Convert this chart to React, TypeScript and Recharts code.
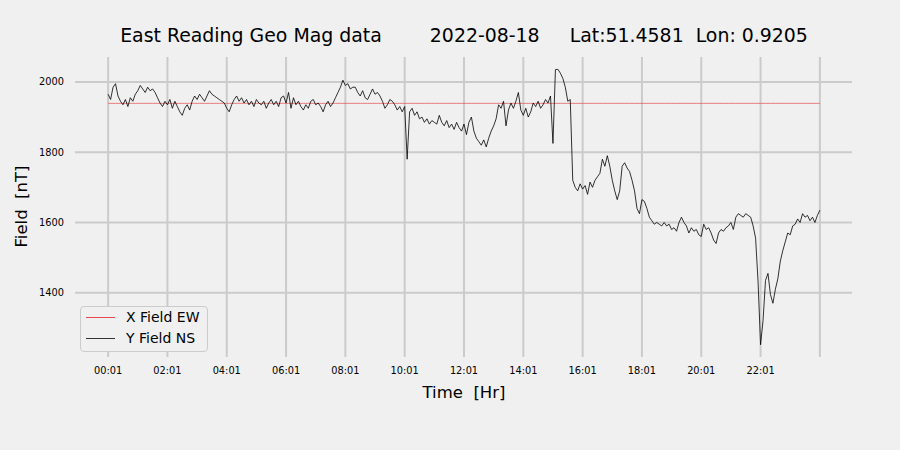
import React from 'react';
import { LineChart, Line, XAxis, YAxis, CartesianGrid, Legend } from 'recharts';

const sampleStepMin = 5;

const yFieldNS = [
  1965, 1950, 1985, 1995, 1960, 1945, 1935, 1950, 1930, 1955,
  1945, 1965, 1975, 1990, 1980, 1970, 1985, 1975, 1980, 1970,
  1955, 1940, 1930, 1945, 1935, 1950, 1925, 1945, 1930, 1915,
  1905, 1925, 1935, 1920, 1945, 1960, 1950, 1965, 1955, 1945,
  1960, 1975, 1965, 1960, 1955, 1950, 1945, 1940, 1925, 1915,
  1935, 1950, 1960, 1945, 1955, 1940, 1950, 1935, 1945, 1930,
  1950, 1940, 1935, 1945, 1925, 1940, 1950, 1935, 1945, 1930,
  1955, 1960, 1940, 1970, 1925, 1955, 1935, 1945, 1930, 1920,
  1935, 1925, 1945, 1950, 1935, 1940, 1930, 1915, 1935, 1945,
  1930, 1940, 1955, 1970, 1985, 2005, 1990, 1995, 1980, 1985,
  1985, 1970, 1960, 1975, 1955, 1950, 1965, 1980, 1965, 1970,
  1960, 1945, 1925, 1935, 1950, 1945, 1935, 1920, 1930, 1915,
  1930, 1780, 1915, 1925, 1905, 1915, 1895, 1900, 1885, 1895,
  1880, 1890, 1885, 1880, 1905, 1885, 1875, 1890, 1870, 1880,
  1865, 1885, 1870, 1860, 1880, 1850, 1885, 1900, 1860, 1840,
  1830, 1820, 1835, 1815, 1840, 1860, 1875, 1895, 1935, 1925,
  1945, 1875, 1920, 1940, 1925, 1945, 1970, 1920, 1905, 1925,
  1900, 1915, 1940, 1930, 1945, 1925, 1935, 1950, 1940, 1960,
  1825, 2035, 2036, 2025, 2010, 1985, 1945, 1950, 1720, 1700,
  1690, 1710, 1695, 1705, 1680, 1715, 1700, 1720, 1730, 1740,
  1780, 1760, 1790, 1760, 1720, 1690, 1665, 1690, 1760, 1770,
  1755, 1745, 1720, 1690, 1640, 1625, 1665, 1660, 1640, 1615,
  1605, 1595, 1600, 1595, 1590, 1600, 1590, 1595, 1580, 1585,
  1575, 1600, 1615, 1600, 1590, 1570, 1585, 1575, 1580, 1565,
  1560, 1595, 1580, 1585, 1570, 1550, 1540, 1570, 1580, 1575,
  1585, 1590, 1600, 1580, 1615, 1625, 1620, 1615, 1625, 1620,
  1615, 1590, 1555, 1430, 1252, 1320, 1435, 1455, 1395, 1370,
  1410, 1440, 1490, 1520, 1545, 1570, 1565, 1590, 1595, 1610,
  1600, 1625, 1615, 1620, 1605, 1615, 1600, 1620, 1635,
];

const xFieldEW = 1939;

const tickMinutes = [0, 120, 240, 360, 480, 600, 720, 840, 960, 1080, 1200, 1320, 1440];
const tickLabels = ['00:01', '02:01', '04:01', '06:01', '08:01', '10:01', '12:01', '14:01', '16:01', '18:01', '20:01', '22:01', ''];
const yTicks = [1400, 1600, 1800, 2000];

const data = yFieldNS.map((v, i) => ({ t: i * sampleStepMin, x: xFieldEW, y: v }));

const FONT = '"DejaVu Sans", sans-serif';
const BG = '#f0f0f0';
const GRID = '#cbcbcb';
const X_COLOR = '#e8474d';
const Y_COLOR = '#000000';

const LegendBox = () => (
  <div
    style={{
      position: 'relative',
      width: 128,
      height: 46,
      boxSizing: 'border-box',
      border: '1px solid #cccccc',
      borderRadius: 4,
      background: BG,
      fontFamily: FONT,
      fontSize: 14,
      color: '#000',
    }}
  >
    <div style={{ position: 'absolute', left: 5, top: 10, width: 29, borderTop: `1px solid ${X_COLOR}` }} />
    <div style={{ position: 'absolute', left: 45, top: 2, lineHeight: '17px', whiteSpace: 'nowrap' }}>X Field EW</div>
    <div style={{ position: 'absolute', left: 5, top: 31, width: 29, borderTop: `1px solid #333` }} />
    <div style={{ position: 'absolute', left: 45, top: 23, lineHeight: '17px', whiteSpace: 'nowrap' }}>Y Field NS</div>
  </div>
);

export default function App() {
  return (
    <div style={{ position: 'absolute', left: 0, top: 0, width: 900, height: 450, background: BG }}>
      <LineChart
        width={900}
        height={450}
        data={data}
        margin={{ top: 57, right: 48, bottom: 63, left: 30 }}
        style={{ background: BG }}
      >
        <CartesianGrid
          stroke={GRID}
          strokeWidth={2}
          horizontalValues={yTicks}
          verticalValues={tickMinutes}
          fill="none"
        />
        <XAxis
          dataKey="t"
          type="number"
          domain={[-67, 1505]}
          allowDataOverflow
          ticks={tickMinutes}
          tickFormatter={(v: number) => tickLabels[tickMinutes.indexOf(v)] ?? ''}
          axisLine={false}
          tickLine={false}
          tickSize={0}
          tickMargin={10}
          height={30}
          tick={{ fill: '#000', fontSize: 9.8, fontFamily: FONT }}
          interval={0}
        />
        <YAxis
          type="number"
          domain={[1217, 2071]}
          allowDataOverflow
          ticks={yTicks}
          axisLine={false}
          tickLine={false}
          tickSize={0}
          tickMargin={11}
          width={45}
          tick={{ fill: '#000', fontSize: 9.8, fontFamily: FONT }}
          interval={0}
        />
        <Legend
          layout="vertical"
          align="center"
          verticalAlign="middle"
          content={() => <LegendBox />}
          wrapperStyle={{ left: 80, top: 306, width: 128, height: 46 }}
        />
        <Line
          type="linear"
          dataKey="x"
          name="X Field EW"
          stroke={X_COLOR}
          strokeWidth={0.7}
          dot={false}
          activeDot={false}
          isAnimationActive={false}
        />
        <Line
          type="linear"
          dataKey="y"
          name="Y Field NS"
          stroke={Y_COLOR}
          strokeWidth={0.8}
          dot={false}
          activeDot={false}
          isAnimationActive={false}
        />
        <text
          x={464}
          y={42}
          textAnchor="middle"
          fontFamily={FONT}
          fontSize={18.9}
          fill="#000"
          style={{ whiteSpace: 'pre' }}
        >
          {'East Reading Geo Mag data        2022-08-18     Lat:51.4581  Lon: 0.9205'}
        </text>
        <text
          x={464}
          y={398}
          textAnchor="middle"
          fontFamily={FONT}
          fontSize={16.5}
          fill="#000"
          style={{ whiteSpace: 'pre' }}
        >
          {'Time  [Hr]'}
        </text>
        <text
          x={27}
          y={206.5}
          textAnchor="middle"
          fontFamily={FONT}
          fontSize={16.5}
          fill="#000"
          transform="rotate(-90, 27, 206.5)"
          style={{ whiteSpace: 'pre' }}
        >
          {'Field  [nT]'}
        </text>
      </LineChart>
    </div>
  );
}
